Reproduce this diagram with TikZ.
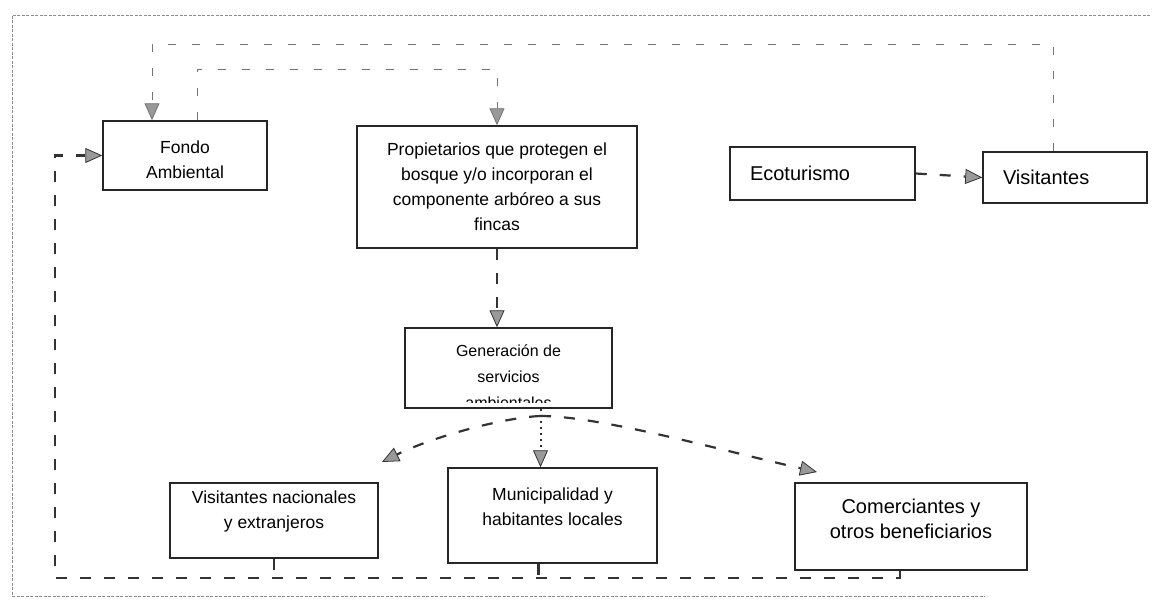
\documentclass[tikz,border=0pt]{standalone}
\usepackage{fontspec}
\setmainfont{Liberation Sans}
\usetikzlibrary{arrows.meta}
\begin{document}
\begin{tikzpicture}[x=1pt,y=-1pt,
 box/.style={draw=black!85, line width=1.5pt, inner sep=0pt, align=center, font=\fontsize{17.5}{25}\selectfont},
 bigbox/.style={box, font=\fontsize{20}{25}\selectfont},
 conn/.style={draw=black!80, line width=2.2pt, dash pattern=on 11pt off 13pt},
 dotconn/.style={draw=black!80, line width=2pt, dash pattern=on 2pt off 4pt},
 thinconn/.style={draw=black!55, line width=1pt, dash pattern=on 8pt off 16pt},
 frame/.style={draw=black!45, line width=0.8pt, dash pattern=on 3pt off 1.5pt},
 tip/.style={-{Triangle[length=17pt,width=15pt,fill=black!40,line width=0.8pt]}}
]
\useasboundingbox (0,0) rectangle (1156,608);
% scan frame
\draw[frame] (1150,15) -- (12,15) -- (12,596) -- (985,596);

% boxes
\node[box, minimum width=164pt, minimum height=69pt, text height=47pt] (fondo) at (185,155.5) {Fondo\\Ambiental};
\node[box, minimum width=280pt, minimum height=122pt] (prop) at (497,187)
  {Propietarios que protegen el\\bosque y/o incorporan el\\componente arbóreo a sus\\fincas};
\node[bigbox, text width=145pt, inner xsep=20pt, align=left, minimum height=53pt] (eco) at (822.5,173.5) {Ecoturismo};
\node[bigbox, text width=124pt, inner xsep=20pt, align=left, minimum height=51pt] (vis) at (1065,177.5) {Visitantes};
\node[box, minimum width=207pt, minimum height=80pt] (gen) at (508.5,368) {};
\begin{scope}
 \clip (406,329) rectangle (611,402.5);
 \node[font=\fontsize{16}{26}\selectfont, align=center, anchor=north, inner sep=0pt] (gentext) at (508.5,345)
   {Generación de\\servicios\\ambientales};
\end{scope}
\node[box, minimum width=209pt, minimum height=95pt, text depth=18pt] (mun) at (552.5,515.5) {Municipalidad y\\habitantes locales};
\node[box, minimum width=208pt, minimum height=75pt, text depth=22pt] (visnac) at (274,520.5) {Visitantes nacionales\\y extranjeros};
\node[bigbox, minimum width=232pt, minimum height=87pt, text depth=15pt] (com) at (911,526.5) {Comerciantes y\\otros beneficiarios};

% helper coordinates
\coordinate (bl) at (55,578);
\coordinate (gs) at (540,416);
\coordinate (lt) at (382,462);
\coordinate (rt) at (817,472);

% top loops
\draw[thinconn,tip] ([xshift=-12pt]vis.north) -- ++(0,-107) -| ([xshift=-33pt]fondo.north);
\draw[thinconn,tip] ([xshift=12pt]fondo.north) -- ++(0,-51) -| (prop.north);

% bottom/left loop
\draw[conn,tip] ([xshift=-11pt]com.south) |- (bl) |- (fondo.west);
\draw[conn] (visnac.south) -- (visnac.south |- bl);
\draw[conn] ([xshift=-14pt]mun.south) -- ([xshift=-14pt]mun.south |- bl);

% main flow
\draw[conn,tip] (prop.south) -- (prop.south |- gen.north);
\draw[conn,tip] (eco.east) -- (vis.west);

% fan out from Generación
\draw[conn,tip] (gs) .. controls (500,418) and (430,438) .. (lt);
\draw[conn,tip] (gs) .. controls (600,416) and (720,450) .. (rt);
\draw[dotconn,tip] ([xshift=-12pt]mun.north |- gen.south) -- ([xshift=-12pt]mun.north);
\end{tikzpicture}
\end{document}
